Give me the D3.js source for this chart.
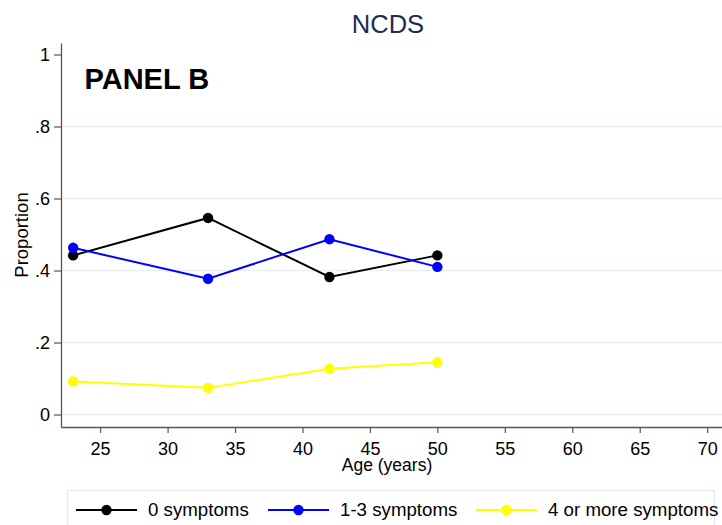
<!DOCTYPE html>
<html>
<head>
<meta charset="utf-8">
<script src="https://cdn.jsdelivr.net/npm/d3@7"></script>
<style>
  html, body { margin: 0; padding: 0; background: #fff; }
  svg { display: block; font-family: "Liberation Sans", Arial, Helvetica, sans-serif; }
</style>
</head>
<body>
<svg id="chart" width="722" height="525"></svg>
<script>
// Survey waves (age in years)
const ages = [23, 33, 42, 50];

// Proportion of cohort members in each symptom group
const zeroSymptoms = [0.442, 0.546, 0.382, 0.442];
const oneToThree   = [0.463, 0.377, 0.487, 0.410];
const fourOrMore   = [0.092, 0.074, 0.127, 0.145];

const seriesNames  = ["0 symptoms", "1-3 symptoms", "4 or more symptoms"];
const seriesColors = ["#000000", "#0000ff", "#ffff00"];

const xTicks = [25, 30, 35, 40, 45, 50, 55, 60, 65, 70];
const yTicks = [0, 0.2, 0.4, 0.6, 0.8, 1];
const yTickLabels = ["0", ".2", ".4", ".6", ".8", "1"];

const series = [zeroSymptoms, oneToThree, fourOrMore].map((vals, i) => ({
  name: seriesNames[i],
  color: seriesColors[i],
  points: ages.map((a, j) => ({ age: a, value: vals[j] }))
}));

const svg = d3.select("#chart");

const plot = { left: 61, right: 722, top: 43, bottom: 427 };

const x = d3.scaleLinear().domain([22.1, 71.1]).range([plot.left, plot.right]);
const y = d3.scaleLinear().domain([-0.0347, 1.0319]).range([plot.bottom, plot.top]);

// Horizontal gridlines (none at the top value)
svg.append("g")
  .selectAll("line")
  .data(yTicks.filter(t => t < 1))
  .join("line")
  .attr("x1", plot.left)
  .attr("x2", plot.right)
  .attr("y1", d => y(d))
  .attr("y2", d => y(d))
  .attr("stroke", "#eaf0f2")
  .attr("stroke-width", 1.6);

// Y axis
const yAxis = svg.append("g")
  .attr("transform", `translate(${plot.left},0)`)
  .call(d3.axisLeft(y)
    .tickValues(yTicks)
    .tickFormat((d, i) => yTickLabels[i])
    .tickSize(7)
    .tickPadding(4)
    .tickSizeOuter(0));
yAxis.select(".domain").attr("stroke", "#555").attr("stroke-width", 1.3);
yAxis.selectAll(".tick line").attr("stroke", "#555").attr("stroke-width", 1.2);
yAxis.selectAll(".tick text")
  .attr("font-size", 18)
  .attr("font-family", "Liberation Sans, Arial, sans-serif")
  .attr("fill", "#000");

// X axis
const xAxis = svg.append("g")
  .attr("transform", `translate(0,${plot.bottom})`)
  .call(d3.axisBottom(x)
    .tickValues(xTicks)
    .tickSize(6)
    .tickPadding(9)
    .tickSizeOuter(0));
xAxis.select(".domain").attr("stroke", "#555").attr("stroke-width", 1.3);
xAxis.selectAll(".tick line").attr("stroke", "#555").attr("stroke-width", 1.2);
xAxis.selectAll(".tick text")
  .attr("font-size", 18)
  .attr("font-family", "Liberation Sans, Arial, sans-serif")
  .attr("fill", "#000");

// Series lines and markers
const line = d3.line().x(d => x(d.age)).y(d => y(d.value));

const g = svg.append("g");
series.forEach(s => {
  g.append("path")
    .datum(s.points)
    .attr("d", line)
    .attr("fill", "none")
    .attr("stroke", s.color)
    .attr("stroke-width", 2);
  g.selectAll(null)
    .data(s.points)
    .join("circle")
    .attr("cx", d => x(d.age))
    .attr("cy", d => y(d.value))
    .attr("r", 5.2)
    .attr("fill", s.color);
});

// Titles and labels
svg.append("text")
  .attr("x", 388)
  .attr("y", 33)
  .attr("text-anchor", "middle")
  .attr("font-size", 25.5)
  .attr("fill", "#1b2b52")
  .text("NCDS");

svg.append("text")
  .attr("x", 84.5)
  .attr("y", 89.3)
  .attr("font-size", 29)
  .attr("font-weight", "bold")
  .attr("fill", "#000")
  .text("PANEL B");

svg.append("text")
  .attr("x", 387)
  .attr("y", 471)
  .attr("text-anchor", "middle")
  .attr("font-size", 17.5)
  .attr("fill", "#000")
  .text("Age (years)");

svg.append("text")
  .attr("transform", `translate(27.5,${(plot.top + plot.bottom) / 2}) rotate(-90)`)
  .attr("text-anchor", "middle")
  .attr("font-size", 18.5)
  .attr("fill", "#000")
  .text("Proportion");

// Legend
svg.append("rect")
  .attr("x", 67.5)
  .attr("y", 490.5)
  .attr("width", 647)
  .attr("height", 60)
  .attr("fill", "#fff")
  .attr("stroke", "#e2e9ec")
  .attr("stroke-width", 1.2);

const legendX = [76, 268, 476];
const legendY = 510;
const leg = svg.append("g")
  .selectAll("g")
  .data(series)
  .join("g")
  .attr("transform", (d, i) => `translate(${legendX[i]},${legendY})`);
leg.append("line")
  .attr("x1", 0).attr("x2", 61)
  .attr("y1", 0).attr("y2", 0)
  .attr("stroke", d => d.color)
  .attr("stroke-width", 2.2);
leg.append("circle")
  .attr("cx", 30.5).attr("cy", 0).attr("r", 5.2)
  .attr("fill", d => d.color);
leg.append("text")
  .attr("x", 72)
  .attr("y", 6)
  .attr("font-size", 18.7)
  .attr("fill", "#000")
  .text(d => d.name);
</script>
</body>
</html>
